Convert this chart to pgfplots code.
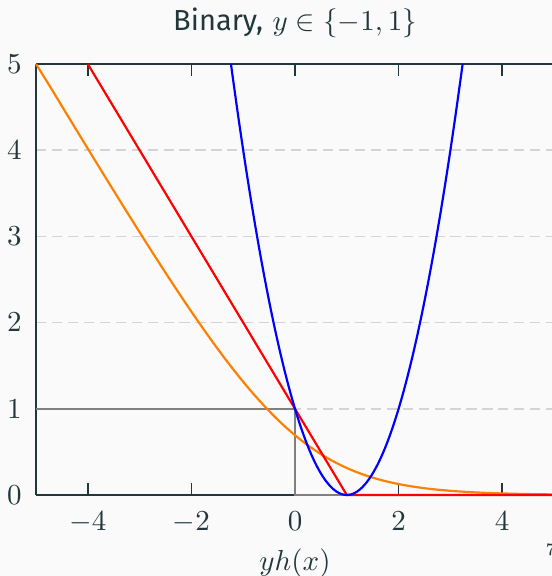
\documentclass[border=0pt]{standalone}
\usepackage{fontspec}
\usepackage{pgfplots}
\pgfplotsset{compat=1.18}
\newfontfamily\titlefont{Fira Sans}
\definecolor{mtdark}{HTML}{23373B}
\definecolor{slidebg}{HTML}{FAFAFA}
\definecolor{gridgray}{HTML}{D4D4D4}
\definecolor{lossorange}{HTML}{FF8000}

\begin{document}
\begin{tikzpicture}
\fill[slidebg] (0pt,0pt) rectangle (190.44pt,198.72pt);
\begin{axis}[
  at={(12.42pt,27.945pt)},anchor=south west,scale only axis,
  width=178.71pt,height=148.7pt,
  xmin=-5,xmax=5,ymin=0,ymax=5,clip=false,
  xtick={-4,-2,0,2,4},ytick={0,1,2,3,4,5},
  ytick style={draw=none},
  xtick style={draw=mtdark,line width=0.5pt},
  xtick pos=both,tick align=inside,
  ymajorgrids,grid style={draw=gridgray,dash pattern=on 3.5pt off 2pt,line width=0.5pt},
  separate axis lines,
  axis line style={draw=mtdark,line width=0.8pt},
  x axis line style={draw=none},
  tick label style={text=mtdark},
  xticklabel style={yshift=-2.2pt},
  yticklabel style={xshift=-1.4pt},
  title={{\titlefont Binary,} $y\in\{-1,1\}$},
  title style={at={(0.5,1)},anchor=base,yshift=5.4pt,text=mtdark},
  xlabel={$yh(x)$},
  xlabel style={at={(0.5,0)},anchor=base,yshift=-26pt,text=mtdark},
  every axis plot/.append style={line width=0.75pt}]
% frame: top edge and left part of the bottom edge
\addplot[mtdark,line width=0.8pt] coordinates {(-5,5)(5.05,5)};
\addplot[mtdark,line width=0.8pt] coordinates {(-5,0)(0,0)};
% zero-one loss
\addplot[gray] coordinates {(-5,1)(0,1)(0,0)(5.05,0)};
% logistic loss
\addplot[lossorange,smooth] coordinates {
(-5,5)(-4.75,4.7586)(-4.5,4.5111)(-4.25,4.2642)(-4,4.0181)(-3.75,3.7733)
(-3.5,3.5297)(-3.25,3.2880)(-3,3.0486)(-2.75,2.8120)(-2.5,2.5789)(-2.25,2.3503)
(-2,2.1269)(-1.75,1.9102)(-1.5,1.7014)(-1.25,1.5019)(-1,1.3133)(-0.75,1.1369)
(-0.5,0.9741)(-0.25,0.8259)(0,0.6931)(0.25,0.5759)(0.5,0.4741)(0.75,0.3869)
(1,0.3133)(1.25,0.2519)(1.5,0.2014)(1.75,0.1602)(2,0.1269)(2.25,0.1002)
(2.5,0.0789)(2.75,0.0619)(3,0.0486)(3.25,0.0381)(3.5,0.0298)(3.75,0.0233)
(4,0.0181)(4.5,0.0110)(5,0.0067)};
% hinge loss
\addplot[red] coordinates {(-4,5)(1,0)(5.05,0)};
% square loss
\addplot[blue,smooth] coordinates {
(-1.2361,5)(-1.2,4.84)(-1.1,4.41)(-1.0,4)(-0.9,3.61)(-0.8,3.24)(-0.7,2.89)
(-0.6,2.56)(-0.5,2.25)(-0.4,1.96)(-0.3,1.69)(-0.2,1.44)(-0.1,1.21)(0,1)
(0.1,0.81)(0.2,0.64)(0.3,0.49)(0.4,0.36)(0.5,0.25)(0.6,0.16)(0.7,0.09)
(0.8,0.04)(0.9,0.01)(1.0,0)(1.1,0.01)(1.2,0.04)(1.3,0.09)(1.4,0.16)
(1.5,0.25)(1.6,0.36)(1.7,0.49)(1.8,0.64)(1.9,0.81)(2.0,1)(2.1,1.21)
(2.2,1.44)(2.3,1.69)(2.4,1.96)(2.5,2.25)(2.6,2.56)(2.7,2.89)(2.8,3.24)
(2.9,3.61)(3.0,4)(3.1,4.41)(3.2,4.84)(3.2361,5)};
\end{axis}
\node[anchor=base west,inner sep=0pt,text=mtdark,font=\fontsize{6}{7}\selectfont] at (188pt,7.2pt) {7};
\pgfresetboundingbox
\path[use as bounding box] (0pt,0pt) rectangle (190.44pt,198.72pt);
\end{tikzpicture}
\end{document}
